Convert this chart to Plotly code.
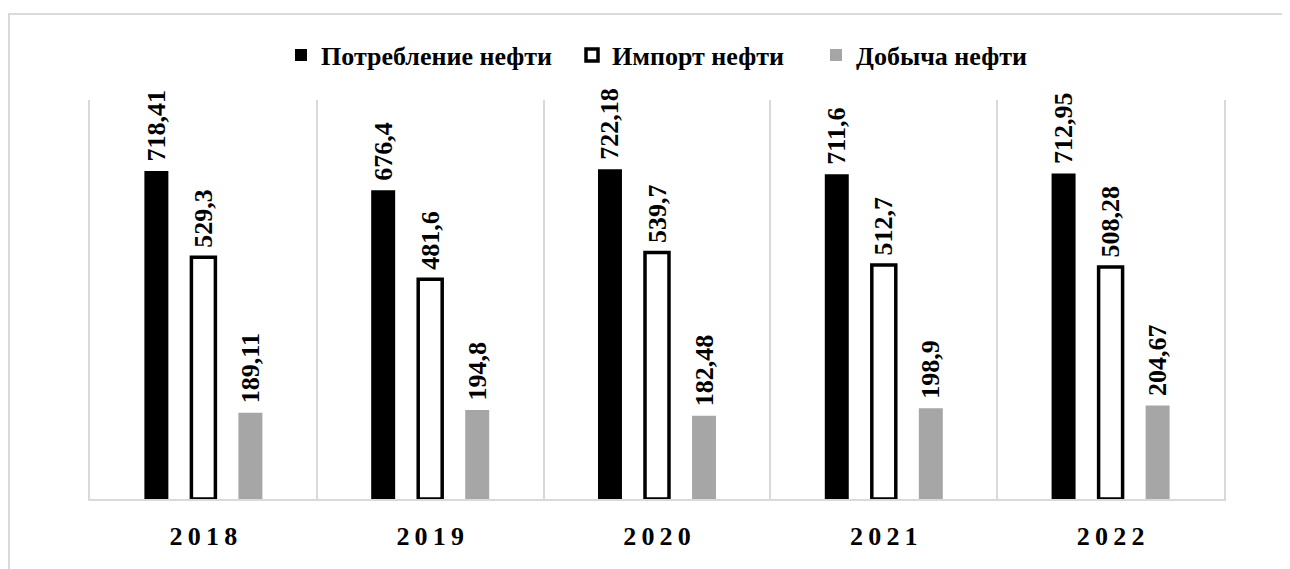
import plotly.graph_objects as go

years = ["2018", "2019", "2020", "2021", "2022"]
year_lbl = ["2\u20090\u20091\u20098", "2\u20090\u20091\u20099", "2\u20090\u20092\u20090",
            "2\u20090\u20092\u20091", "2\u20090\u20092\u20092"]
consumption = [718.41, 676.4, 722.18, 711.6, 712.95]
imports = [529.3, 481.6, 539.7, 512.7, 508.28]
production = [189.11, 194.8, 182.48, 198.9, 204.67]
consumption_lbl = ["718,41", "676,4", "722,18", "711,6", "712,95"]
imports_lbl = ["529,3", "481,6", "539,7", "512,7", "508,28"]
production_lbl = ["189,11", "194,8", "182,48", "198,9", "204,67"]

FONT = "Liberation Serif"
OFF = 8  # page body margin
W, H = 1290 - OFF, 569 - OFF
# plot area in screenshot pixels: x 90..1224, y 100..499
L, R, T, B = 90 - OFF, 1290 - 1224, 100 - OFF, 569 - 499
pw, ph = W - L - R, H - T - B

def px_x(x):
    return (x - OFF - L) / pw

def px_y(y):
    return (H - B - (y - OFF)) / ph

def pad(labels):
    # small leading gap between bar end and its rotated label
    return ["\u00a0" + s for s in labels]

LBL = dict(family=FONT, size=26, color="#000000", weight="bold")

fig = go.Figure()
fig.add_trace(go.Bar(
    x=years, y=consumption, name="Потребление нефти", legend="legend",
    marker=dict(color="#000000", line=dict(width=0)),
    text=pad(consumption_lbl), textposition="outside", textangle=-90,
    textfont=LBL, cliponaxis=False, constraintext="none",
))
fig.add_trace(go.Bar(
    x=years, y=imports, name="Импорт нефти", legend="legend2",
    marker=dict(color="#FFFFFF", line=dict(width=3.5, color="#000000")),
    text=pad(imports_lbl), textposition="outside", textangle=-90,
    textfont=LBL, cliponaxis=False, constraintext="none",
))
fig.add_trace(go.Bar(
    x=years, y=production, name="Добыча нефти", legend="legend3",
    marker=dict(color="#A6A6A6", line=dict(width=0)),
    text=pad(production_lbl), textposition="outside", textangle=-90,
    textfont=LBL, cliponaxis=False, constraintext="none",
))

LEG = dict(
    orientation="h", xanchor="left", y=px_y(55), yanchor="middle",
    font=dict(family=FONT, size=26, color="#000000", weight="bold"),
    itemwidth=30, bgcolor="rgba(0,0,0,0)",
)
fig.update_layout(
    width=W, height=H,
    margin=dict(l=L, r=R, t=T, b=B, pad=0),
    paper_bgcolor="white", plot_bgcolor="white",
    barmode="group", bargap=0.378, bargroupgap=0.49,
    font=dict(family=FONT, color="#000000"),
    showlegend=True,
    legend=dict(LEG, x=px_x(281)),
    legend2=dict(LEG, x=px_x(572)),
    legend3=dict(LEG, x=px_x(816)),
    xaxis=dict(
        type="category", tickson="boundaries", showgrid=True, gridcolor="#D9D9D9", gridwidth=2,
        showline=True, linecolor="#D9D9D9", linewidth=2, ticks="",
        tickmode="array", tickvals=years, ticktext=year_lbl,
        tickfont=dict(family=FONT, size=26, color="#000000", weight="bold"),
        ticklabelstandoff=13, zeroline=False,
    ),
    yaxis=dict(
        range=[0, 874], showgrid=False, showticklabels=False, zeroline=False,
        showline=True, linecolor="#D9D9D9", linewidth=2, mirror=True, ticks="",
    ),
    shapes=[dict(
        type="rect", xref="paper", yref="paper",
        x0=px_x(9), y0=px_y(600), x1=px_x(1320), y1=px_y(14),
        line=dict(color="#D9D9D9", width=2), fillcolor="rgba(0,0,0,0)", layer="below",
    )],
)

fig.write_html("out.html")
